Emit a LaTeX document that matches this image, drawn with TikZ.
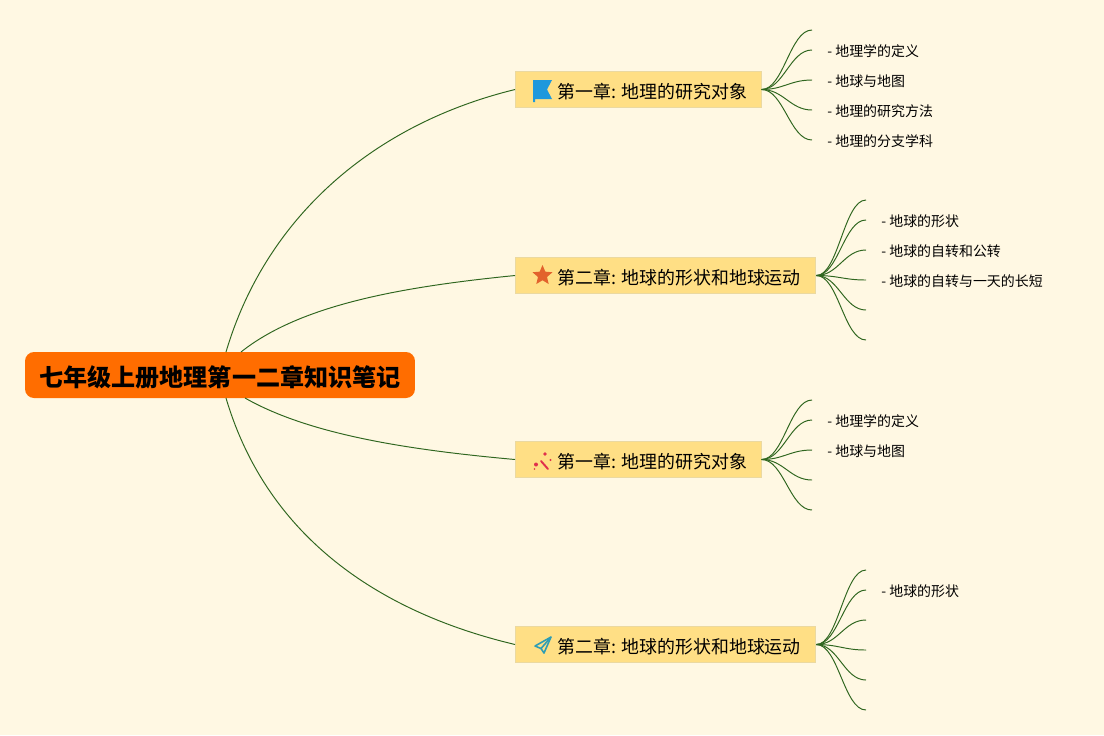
\documentclass[tikz,border=0pt]{standalone}
\usepackage{fontspec}
\setmainfont{Noto Sans CJK SC}
\usepackage{xcolor}
\definecolor{mind-paper}{HTML}{FFF8E3}
\definecolor{mind-root}{HTML}{FF6D00}
\definecolor{mind-box}{HTML}{FFDF85}
\definecolor{mind-rim}{HTML}{EBD9A0}
\definecolor{mind-link}{HTML}{2F661F}
\definecolor{mind-flag}{HTML}{1E98DC}
\definecolor{mind-star}{HTML}{E2622C}
\definecolor{mind-wand}{HTML}{E0304C}
\definecolor{mind-plane}{HTML}{2E9DB4}
\usetikzlibrary{shapes.geometric}
\tikzset{
    rootbox/.style={fill=mind-root, rounded corners=0.18cm, inner sep=0pt, minimum width=7.8cm, minimum height=0.92cm, text height=0.52cm, text depth=0.08cm, font=\fontsize{13.7}{16}\selectfont\bfseries},
    chapterbox/.style={fill=mind-box, draw=mind-rim, line width=0.6pt, anchor=west, inner sep=0pt, minimum height=0.72cm, text height=0.41cm, text depth=0.06cm, font=\fontsize{10.2}{12}\selectfont},
    leaftext/.style={anchor=west, inner sep=0pt, font=\fontsize{7.94}{10}\selectfont},
    link/.style={draw=mind-link, line width=0.55pt},
}

\begin{document}
\begin{tikzpicture}[x=0.02cm, y=-0.02cm]

    % Background
    \fill[mind-paper] (0, 0) rectangle (1104, 735);
    \useasboundingbox (0, 0) rectangle (1104, 735);

    % Root and chapters
    \node[rootbox] (root) at (220, 375) {七年级上册地理第一二章知识笔记};
    \node[chapterbox] (flagbox) at (515, 89.5) {\hspace*{0.84cm}第一章: 地理的研究对象\hspace*{0.28cm}};
    \node[chapterbox] (starbox) at (515, 275.5) {\hspace*{0.84cm}第二章: 地球的形状和地球运动\hspace*{0.3cm}};
    \node[chapterbox] (wandbox) at (515, 459.5) {\hspace*{0.84cm}第一章: 地理的研究对象\hspace*{0.28cm}};
    \node[chapterbox] (planebox) at (515, 644.5) {\hspace*{0.84cm}第二章: 地球的形状和地球运动\hspace*{0.3cm}};

    % Root links
    \coordinate (rootupa) at (226, 352);
    \coordinate (rootupb) at (241, 352);
    \coordinate (rootdownb) at (245, 398);
    \coordinate (rootdowna) at (226, 398);
    \draw[link] (rootupa) .. controls (265, 220) and (370, 125) .. (flagbox.west);
    \draw[link] (rootupb) .. controls (300, 305) and (400, 287) .. (starbox.west);
    \draw[link] (rootdownb) .. controls (310, 435) and (410, 450) .. (wandbox.west);
    \draw[link] (rootdowna) .. controls (265, 530) and (370, 610) .. (planebox.west);

    % Twigs
    \foreach \tip/\y in {fa/30, fb/50, fc/80, fd/110, fe/140} {
        \coordinate (\tip) at (812, \y);
        \draw[link] (flagbox.east) .. controls +(22, 0) and +(-22, 0) .. (\tip);
    }
    \foreach \tip/\y in {sa/200, sb/220, sc/250, sd/280, se/310, sf/340} {
        \coordinate (\tip) at (866, \y);
        \draw[link] (starbox.east) .. controls +(22, 0) and +(-22, 0) .. (\tip);
    }
    \foreach \tip/\y in {wa/400, wb/420, wc/450, wd/480, we/510} {
        \coordinate (\tip) at (812, \y);
        \draw[link] (wandbox.east) .. controls +(22, 0) and +(-22, 0) .. (\tip);
    }
    \foreach \tip/\y in {pa/570, pb/590, pc/620, pd/650, pe/680, pf/710} {
        \coordinate (\tip) at (866, \y);
        \draw[link] (planebox.east) .. controls +(22, 0) and +(-22, 0) .. (\tip);
    }

    % Leaf texts
    \node[leaftext] (fbtext) at (827, 51) {- 地理学的定义};
    \node[leaftext] (fctext) at (827, 81) {- 地球与地图};
    \node[leaftext] (fdtext) at (827, 111) {- 地理的研究方法};
    \node[leaftext] (fetext) at (827, 141) {- 地理的分支学科};
    \node[leaftext] (sbtext) at (881, 221) {- 地球的形状};
    \node[leaftext] (sctext) at (881, 251) {- 地球的自转和公转};
    \node[leaftext] (sdtext) at (881, 281) {- 地球的自转与一天的长短};
    \node[leaftext] (wbtext) at (827, 421) {- 地理学的定义};
    \node[leaftext] (wctext) at (827, 451) {- 地球与地图};
    \node[leaftext] (pbtext) at (881, 591) {- 地球的形状};

    % Flag icon
    \fill[mind-flag] (533, 80) -- (552, 80) -- (547, 89.5) -- (552, 99) -- (535, 99) -- (535, 102) -- (533, 102) -- cycle;

    % Star icon
    \node[star, star points=5, star point ratio=2.2, fill=mind-star, inner sep=0pt, minimum size=0.42cm] (staricon) at (542.5, 275.5) {};

    % Wand icon
    \draw[mind-wand, line width=1.1pt, line cap=round] (541, 461) -- (548, 469);
    \fill[mind-wand] (545, 454) circle (1.8);
    \fill[mind-wand] (550.5, 460) circle (1.2);
    \fill[mind-wand] (536, 464.5) circle (2.0);
    \fill[mind-wand] (534.5, 469) circle (0.9);

    % Plane icon
    \draw[mind-plane, line width=0.9pt, line join=round] (551, 637) -- (535, 646) -- (541, 648.5) -- (544, 653) -- cycle;
    \draw[mind-plane, line width=0.9pt, line join=round] (551, 637) -- (541, 648.5);

\end{tikzpicture}
\end{document}
